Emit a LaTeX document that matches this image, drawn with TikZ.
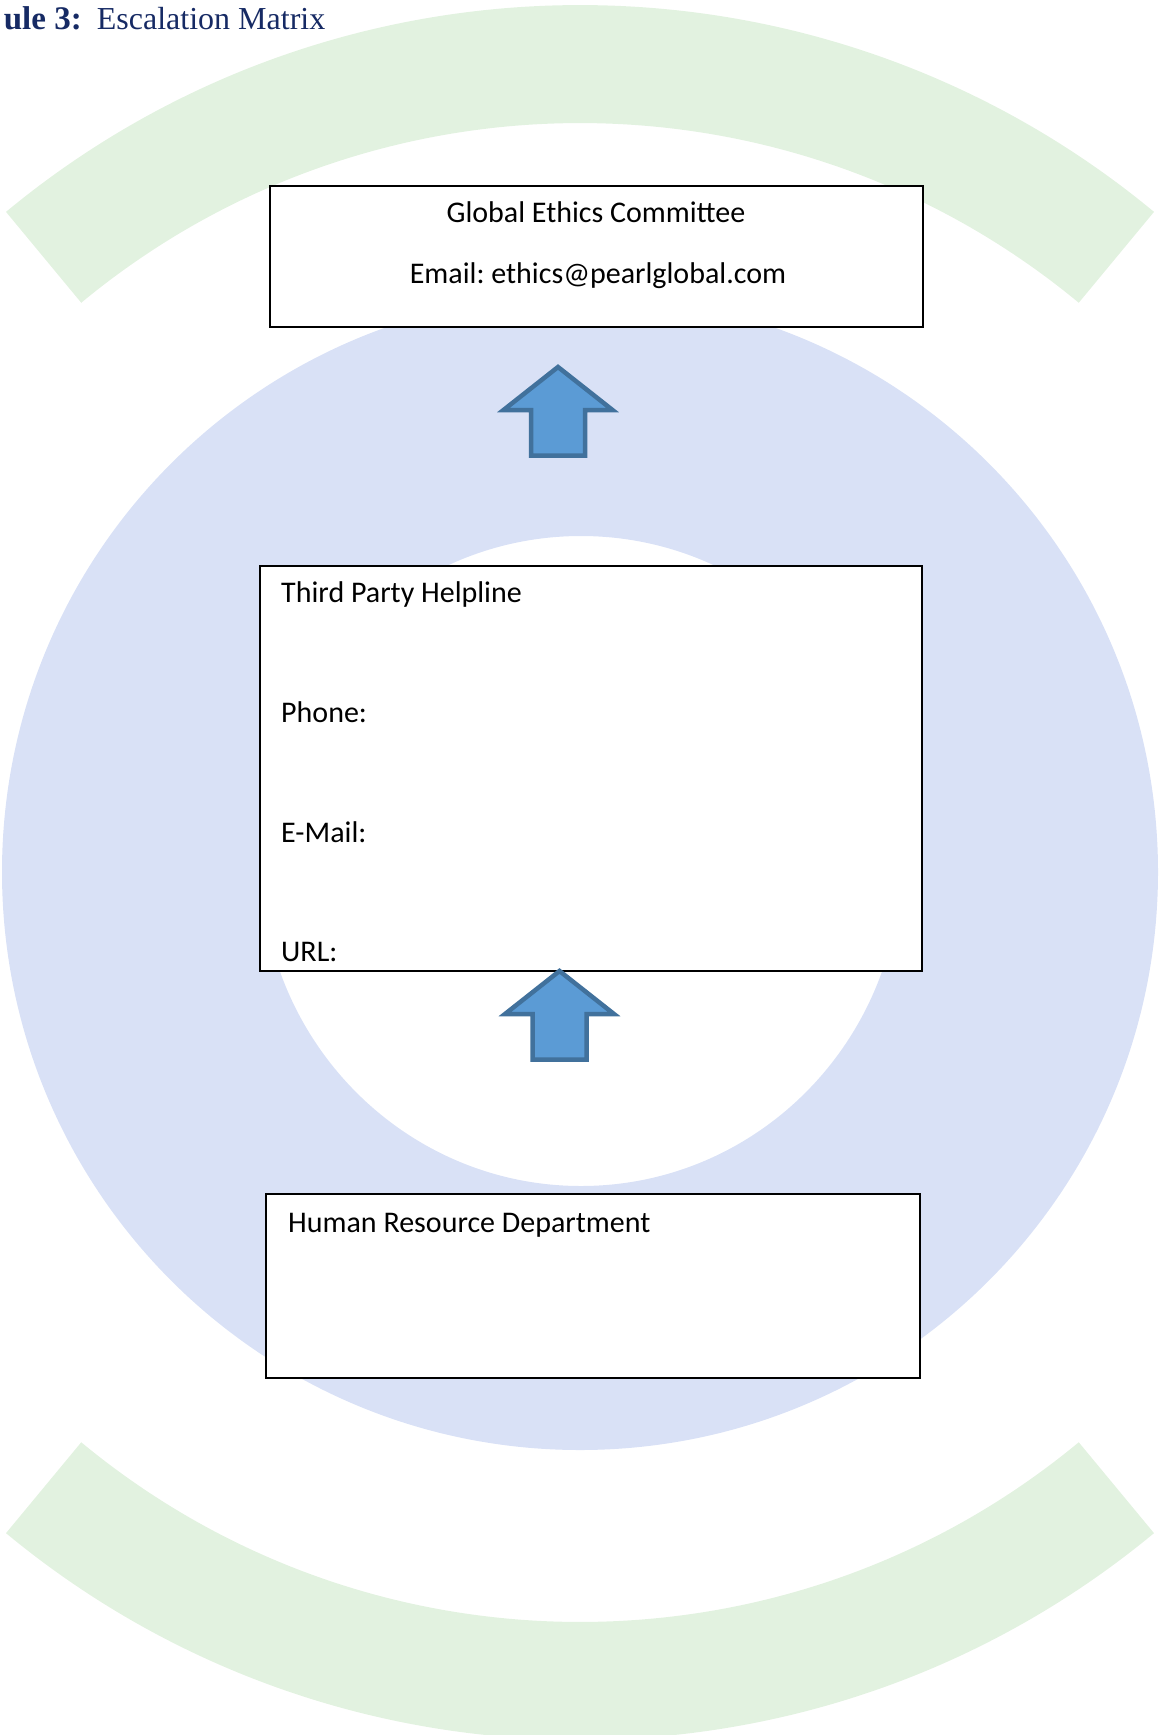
\documentclass[tikz,border=0pt]{standalone}
\usepackage{fontspec}
\setmainfont{Liberation Serif}
\newfontfamily\calib{Carlito}
\definecolor{ringblue}{RGB}{217,225,246}
\definecolor{arcgreen}{RGB}{226,242,224}
\definecolor{arrowfill}{RGB}{91,155,213}
\definecolor{arrowline}{RGB}{65,113,156}
\definecolor{titlenavy}{RGB}{22,42,100}
\frenchspacing
\begin{document}
\begin{tikzpicture}[x=1pt,y=-1pt,
  box/.style={draw=black, line width=1.8pt, fill=white, inner sep=0pt, rectangle},
  boxtext/.style={font=\calib\fontsize{30}{36}\selectfont, inner sep=0pt},
  titletext/.style={text=titlenavy, inner sep=0pt, font=\fontsize{32}{38}\selectfont},
  pics/uparrow/.style={code={
    \draw[fill=arrowfill, draw=arrowline, line width=4.5pt, line join=miter]
      (0,0) -- (54.5,43) -- (27,43) -- (27,88.5) -- (-27,88.5) -- (-27,43) -- (-54.5,43) -- cycle;}}
]
\useasboundingbox (0,0) rectangle (1159,1735);
% watermark: green arcs
\fill[arcgreen] ([shift={(580,905)}]230.37:900) arc[start angle=230.37,end angle=309.63,radius=900]
  -- ([shift={(580,905)}]309.63:782) arc[start angle=309.63,end angle=230.37,radius=782] -- cycle;
\fill[arcgreen] ([shift={(580,840)}]50.37:900) arc[start angle=50.37,end angle=129.63,radius=900]
  -- ([shift={(580,840)}]129.63:782) arc[start angle=129.63,end angle=50.37,radius=782] -- cycle;
% watermark: blue ring
\fill[ringblue, even odd rule] (580,872) circle[radius=578] (581,861) ellipse[x radius=320, y radius=325];
% title
\node[titletext, anchor=base east, font=\bfseries\fontsize{33}{38}\selectfont] (tA) at (82,29.3) {ule 3:};
\node[titletext, anchor=base west] (tB) at (96.7,29.3) {Escalation Matrix};
% boxes
\node[box, minimum width=653pt, minimum height=141pt] (gec) at (596.5,256.5) {};
\node[box, minimum width=662pt, minimum height=405pt] (tph) at (591,768.5) {};
\node[box, minimum width=654pt, minimum height=184pt] (hrd) at (593,1286) {};
% texts
\node[boxtext, anchor=base] (gec1) at (596,222) {Global Ethics Committee};
\node[boxtext, anchor=base] (gec2) at (598,283) {Email: ethics@pearlglobal.com};
\node[boxtext, anchor=base west] (tph1) at (281,602) {Third Party Helpline};
\node[boxtext, anchor=base west] (tph2) at (281,722) {Phone:};
\node[boxtext, anchor=base west] (tph3) at (281,842) {E-Mail:};
\node[boxtext, anchor=base west] (tph4) at (281,961) {URL:};
\node[boxtext, anchor=base west] (hrd1) at (288,1232) {Human Resource Department};
% block arrows
\coordinate (up1) at (558,367);
\coordinate (up2) at (559.5,971);
\pic at (up1) {uparrow};
\pic at (up2) {uparrow};
\end{tikzpicture}
\end{document}
